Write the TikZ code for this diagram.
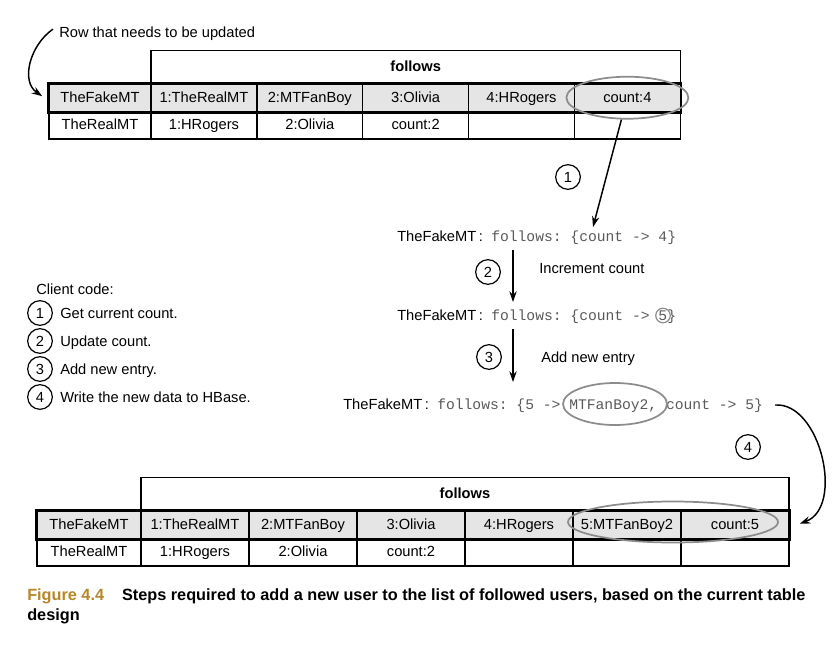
\documentclass[tikz,border=0pt]{standalone}
\usepackage{fontspec}
\setmainfont{Liberation Sans}
\setmonofont{Liberation Mono}
\usetikzlibrary{positioning, matrix, arrows.meta, shapes.geometric}
\definecolor{rowgray}{gray}{0.9}
\definecolor{markgray}{gray}{0.55}
\definecolor{codegray}{gray}{0.35}
\definecolor{figgold}{RGB}{184,134,40}

\begin{document}
\begin{tikzpicture}[x=0.75pt, y=-0.75pt, font=\fontsize{11}{13}\selectfont,
    txt/.style={inner sep=0pt, anchor=base west},
    code/.style={txt, font=\fontsize{11}{13}\ttfamily, text=codegray},
    tbl/.style={matrix of nodes, nodes in empty cells, inner sep=0pt, column sep=-1.1pt, row sep=-1.1pt, anchor=north west,
        nodes={draw, line width=1.1pt, minimum height=20.6pt, inner sep=0pt, anchor=center, text height=8.4pt, text depth=1.8pt},
        row 1/.style={nodes={fill=rowgray}}},
    head/.style={draw, line width=1.1pt, minimum height=24pt, inner sep=0pt, font=\fontsize{11}{13}\selectfont\bfseries, anchor=south west},
    hl/.style={ellipse, draw=markgray, line width=1.3pt, inner sep=0pt},
    num/.style={circle, draw, line width=0.9pt, minimum size=18.5pt, inner sep=0pt},
    arr/.style={-{Stealth[length=8pt, width=5.5pt]}, line width=1.1pt}]
    \useasboundingbox (0,0) rectangle (838,649);

    \node[txt] (rowNote) at (59,37.5) {Row that needs to be updated};

    \matrix (old) [tbl, nodes={minimum width=79.4pt}, column 1/.style={nodes={minimum width=76.5pt}}] at (48,83)
    {
        TheFakeMT & 1:TheRealMT & 2:MTFanBoy & 3:Olivia & 4:HRogers & count:4 \\
        TheRealMT & 1:HRogers & 2:Olivia & count:2 & & \\
    };
    \node[head, minimum width=397pt] (oldHead) at (old-1-2.north west) {follows};
    \draw[line width=2pt] (old-1-1.north west) rectangle (old-1-6.south east);
    \node[hl, minimum width=91.5pt, minimum height=31.5pt] (oldCount) at (old-1-6) {};

    \draw[arr] ([shift={(-6,-4.6)}]rowNote.west) .. controls +(-23,16) and +(-22,-15) .. ([shift={(-6,-1.5)}]old-1-1.west);

    \node[txt] (row1key) at (397,241) {TheFakeMT\,:};
    \node[code] (row1val) at (491,241) {follows: \{count -> 4\}};
    \node[txt] (row2key) at (397,320.5) {TheFakeMT\,:};
    \node[code] (row2val) at (491,320.5) {follows: \{count -> 5\}};
    \node[hl, circle, line width=0.9pt, minimum size=10.9pt] (newCount) at (663,315.5) {};
    \node[txt] (row3key) at (343,409) {TheFakeMT\,:};
    \node[code] (row3val) at (437,409) {follows: \{5 -> MTFanBoy2, count -> 5\}};
    \node[hl, minimum width=78pt, minimum height=31.5pt] (newEntry) at (615,404) {};

    \coordinate (getCount) at (593,227);
    \node[num] (step1) at (568,177) {1};
    \node[num] (step2) at (488,272) {2};
    \node[num] (step3) at (489,357) {3};
    \node[num] (step4) at (748,447) {4};
    \node[txt] (incLabel) at (539,273) {Increment count};
    \node[txt] (addLabel) at (541,362) {Add new entry};

    \draw[arr] ([xshift=-4.5pt]oldCount.south) -- (getCount);
    \draw[arr] ([shift={(22,9)}]row1val.base west) -- ([shift={(22,-18.5)}]row2val.base west);
    \draw[arr] ([shift={(22,8.5)}]row2val.base west) -- ([shift={(76,-27)}]row3val.base west);

    \node[txt] (clientHead) at (36,294) {Client code:};
    \foreach \desc [count=\i] in {Get current count., Update count., Add new entry., Write the new data to HBase.} {
        \node[num] (item\i) at (40,285+28*\i) {\i};
        \node[txt] (itemText\i) at (60,290.5+28*\i) {\desc};
    }

    \matrix (new) [tbl, nodes={minimum width=81pt}, column 1/.style={nodes={minimum width=78pt}}] at (36,510)
    {
        TheFakeMT & 1:TheRealMT & 2:MTFanBoy & 3:Olivia & 4:HRogers & 5:MTFanBoy2 & count:5 \\
        TheRealMT & 1:HRogers & 2:Olivia & count:2 & & & \\
    };
    \node[head, minimum width=486pt] (newHead) at (new-1-2.north west) {follows};
    \draw[line width=2pt] (new-1-1.north west) rectangle (new-1-7.south east);
    \node[hl, minimum width=157.5pt, minimum height=30.75pt] (newCells) at (673,522) {};

    \draw[arr] ([shift={(12,-4)}]row3val.base east) .. controls +(45,-3) and +(45,-17) .. ([shift={(10,-1)}]new-1-7.east);

    \node[inner sep=0pt, anchor=north west, align=left, font=\fontsize{12.2}{15}\selectfont\bfseries] (caption) at (27,588)
        {\textcolor{figgold}{Figure 4.4}\hspace{13.5pt}Steps required to add a new user to the list of followed users, based on the current table\\design};
\end{tikzpicture}
\end{document}
